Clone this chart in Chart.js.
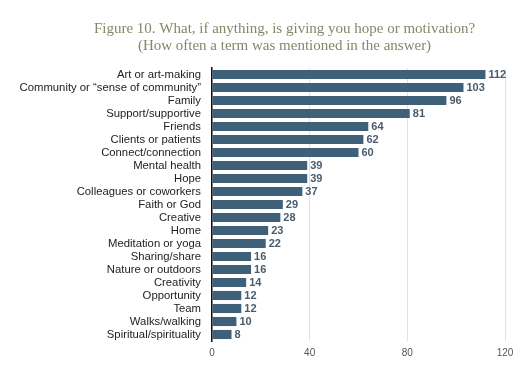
<!DOCTYPE html>
<html>
<head>
<meta charset="utf-8">
<script src="https://cdn.jsdelivr.net/npm/chart.js@4"></script>
<style>
html,body{margin:0;padding:0;background:#fff;}
#wrap{width:529px;height:366px;position:relative;}
</style>
</head>
<body>
<div id="wrap"><canvas id="c" width="529" height="366"></canvas></div>
<script>
const categories = ["Art or art-making","Community or \u201csense of community\u201d","Family","Support/supportive","Friends","Clients or patients","Connect/connection","Mental health","Hope","Colleagues or coworkers","Faith or God","Creative","Home","Meditation or yoga","Sharing/share","Nature or outdoors","Creativity","Opportunity","Team","Walks/walking","Spiritual/spirituality"];
const mentions = [112,103,96,81,64,62,60,39,39,37,29,28,23,22,16,16,14,12,12,10,8];
const xTicks = [0,40,80,120];
const titleLines = ["Figure 10. What, if anything, is giving you hope or motivation?","(How often a term was mentioned in the answer)"];

const titleDraw = {
  id:'titleDraw',
  afterDraw(chart){
    const ctx = chart.ctx;
    ctx.save();
    ctx.font = '15px "Liberation Serif", "DejaVu Serif", serif';
    ctx.fillStyle = '#7f8a66';
    ctx.textAlign = 'center';
    ctx.textBaseline = 'middle';
    const cx = chart.width/2 + 20;
    titleLines.forEach((t,i)=>ctx.fillText(t, cx, 29 + i*17));
    ctx.restore();
  }
};

const valueLabels = {
  id:'valueLabels',
  afterDatasetsDraw(chart){
    const ctx = chart.ctx;
    const meta = chart.getDatasetMeta(0);
    ctx.save();
    ctx.font = 'bold 11px "Liberation Sans", Arial, sans-serif';
    ctx.fillStyle = '#4a5b6b';
    ctx.textBaseline = 'middle';
    ctx.textAlign = 'left';
    meta.data.forEach((bar,i)=>{
      ctx.fillText(String(mentions[i]), bar.x + 3, bar.y + 0.5);
    });
    ctx.restore();
  }
};

new Chart(document.getElementById('c'), {
  type:'bar',
  data:{labels:categories,datasets:[{data:mentions,backgroundColor:'#3f6079',borderWidth:0,categoryPercentage:1,barPercentage:0.7}]},
  options:{
    indexAxis:'y',
    responsive:false,
    animation:false,
    layout:{padding:{left:0,right:24,top:68,bottom:0}},
    plugins:{
      legend:{display:false},
      tooltip:{enabled:false},
      title:{display:false}
    },
    scales:{
      x:{
        min:0,max:120,
        afterBuildTicks(s){ s.ticks = xTicks.map(v=>({value:v})); },
        grid:{color:'#e2e2e2',drawTicks:false,lineWidth:1},
        border:{display:false},
        ticks:{color:'#555',font:{family:'"Liberation Sans", Arial, sans-serif',size:10},padding:6},
        afterFit(s){ s.height = 25; }
      },
      y:{
        grid:{display:false,drawTicks:false},
        border:{display:true,color:'#111',width:1.5},
        ticks:{color:'#222',font:{family:'"Liberation Sans", Arial, sans-serif',size:11.3},padding:11,autoSkip:false},
        afterFit(s){ s.width = 212; }
      }
    }
  },
  plugins:[valueLabels,titleDraw]
});
</script>
</body>
</html>
